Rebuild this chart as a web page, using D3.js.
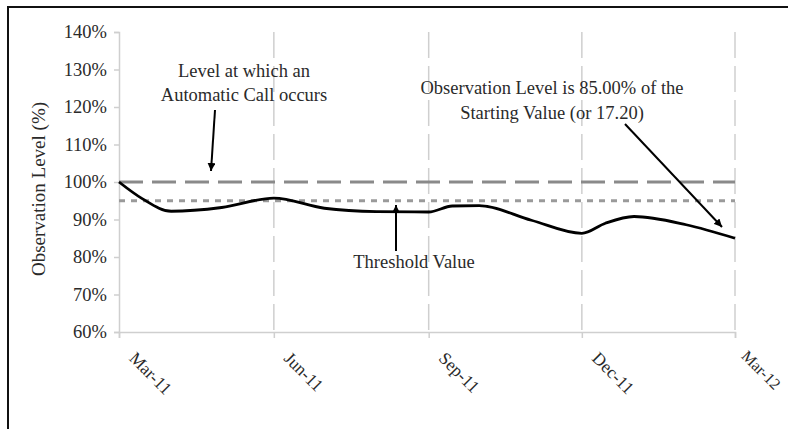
<!DOCTYPE html>
<html>
<head>
<meta charset="utf-8">
<script src="https://cdn.jsdelivr.net/npm/d3@7"></script>
<style>
  body { margin: 0; background: #fff; overflow: hidden; }
  text { font-family: "Liberation Serif", "Times New Roman", serif; }
</style>
</head>
<body>
<div id="chart-container"></div>
<script>
// Observation dates and levels (% of starting value)
const dates = ["2011-03-01", "2011-03-15", "2011-04-01", "2011-05-01", "2011-06-01", "2011-07-01",
  "2011-08-01", "2011-09-01", "2011-09-15", "2011-10-01", "2011-11-01", "2011-12-01",
  "2011-12-15", "2012-01-01", "2012-02-01", "2012-03-01"];
const levels = [100, 95.5, 92.2, 93.2, 95.7, 93.0, 92.1, 92.0, 93.6, 93.7, 89.8, 86.3,
  89.0, 90.8, 88.6, 85.0];

const callLevel = 100;
const thresholdLevel = 95;

const tickDates = ["2011-03-01", "2011-06-01", "2011-09-01", "2011-12-01", "2012-03-01"];
const tickLabels = ["Mar-11", "Jun-11", "Sep-11", "Dec-11", "Mar-12"];
const yTicks = [60, 70, 80, 90, 100, 110, 120, 130, 140];

const parseDate = d3.timeParse("%Y-%m-%d");
const data = dates.map((d, i) => ({ date: parseDate(d), value: levels[i] }));

// Chart geometry
const totalW = 788, totalH = 429;
const margin = { top: 32, left: 119 };
const width = 616;
const height = 300;

const svg = d3.select("#chart-container")
    .append("svg")
    .attr("width", totalW)
    .attr("height", totalH)
    .style("display", "block");

// outer frame (only top and left edges show)
svg.append("path")
    .attr("d", `M8,${totalH}V7H${totalW}`)
    .attr("fill", "none")
    .attr("stroke", "#111")
    .attr("stroke-width", 2);

const g = svg.append("g")
    .attr("transform", `translate(${margin.left},${margin.top})`);

const x = d3.scaleTime()
    .domain([parseDate(tickDates[0]), parseDate(tickDates[tickDates.length - 1])])
    .range([0, width]);

const y = d3.scaleLinear()
    .domain([60, 140])
    .range([height, 0]);

// Vertical gridlines
g.selectAll(".vgrid")
    .data(tickDates.slice(1))
    .enter().append("line")
    .attr("x1", d => x(parseDate(d)))
    .attr("x2", d => x(parseDate(d)))
    .attr("y1", 0)
    .attr("y2", height)
    .attr("stroke", "#cfcfcf")
    .attr("stroke-width", 1.5)
    .attr("stroke-dasharray", "26,8");

// Y axis
const yAxis = g.append("g")
    .call(d3.axisLeft(y).tickValues(yTicks).tickFormat(d => d + "%").tickSize(5).tickPadding(7));
yAxis.select(".domain").attr("stroke", "#cfcfcf").attr("stroke-width", 1.5);
yAxis.selectAll(".tick line").attr("stroke", "#cfcfcf").attr("stroke-width", 1.5);
yAxis.selectAll(".tick text")
    .attr("font-size", 18.5)
    .attr("font-family", "Liberation Serif")
    .attr("fill", "#2a2a2a");

// X axis
const xAxis = g.append("g")
    .attr("transform", `translate(0,${height})`)
    .call(d3.axisBottom(x)
        .tickValues(tickDates.map(parseDate))
        .tickFormat((d, i) => tickLabels[i])
        .tickSize(6));
xAxis.select(".domain").attr("stroke", "#cfcfcf").attr("stroke-width", 1.5);
xAxis.selectAll(".tick line").attr("stroke", "#cfcfcf").attr("stroke-width", 1.5);
xAxis.selectAll(".tick text")
    .attr("font-size", (d, i) => i === tickLabels.length - 1 ? 16 : 17.5)
    .attr("font-family", "Liberation Serif")
    .attr("fill", "#2a2a2a")
    .attr("text-anchor", "start")
    .attr("transform", (d, i) => i === tickLabels.length - 1
        ? "translate(9,21) rotate(45)" : "translate(13,23) rotate(45)")
    .attr("dy", "0.35em")
    .attr("y", 0)
    .attr("x", 0);

// Y axis title
svg.append("text")
    .attr("transform", `translate(45,189) rotate(-90)`)
    .attr("text-anchor", "middle")
    .attr("font-size", 19)
    .attr("fill", "#2a2a2a")
    .text("Observation Level (%)");

// Call level (long dashes) and threshold (short dashes)
g.append("line")
    .attr("x1", 0).attr("x2", width)
    .attr("y1", y(callLevel)).attr("y2", y(callLevel))
    .attr("stroke", "#8a8a8a")
    .attr("stroke-width", 3)
    .attr("stroke-dasharray", "24,9");

g.append("line")
    .attr("x1", 0).attr("x2", width)
    .attr("y1", y(thresholdLevel)).attr("y2", y(thresholdLevel))
    .attr("stroke", "#9a9a9a")
    .attr("stroke-width", 3)
    .attr("stroke-dasharray", "6,6");

// Observation line
const line = d3.line()
    .x(d => x(d.date))
    .y(d => y(d.value))
    .curve(d3.curveMonotoneX);

g.append("path")
    .datum(data)
    .attr("fill", "none")
    .attr("stroke", "#000")
    .attr("stroke-width", 2.8)
    .attr("d", line);

// Arrow marker
svg.append("defs").append("marker")
    .attr("id", "arrow")
    .attr("viewBox", "0 0 10 10")
    .attr("refX", 10).attr("refY", 5)
    .attr("markerWidth", 4).attr("markerHeight", 4)
    .attr("orient", "auto")
    .append("path")
    .attr("d", "M0,0L10,5L0,10z")
    .attr("fill", "#000");

function annotate(lines, cx, y0, lh) {
    const t = svg.append("text")
        .attr("text-anchor", "middle")
        .attr("font-size", 18.5)
        .attr("fill", "#2a2a2a");
    lines.forEach((s, i) => {
        t.append("tspan").attr("x", cx).attr("y", y0 + i * lh).text(s);
    });
}

function arrow(x1, y1, x2, y2) {
    svg.append("line")
        .attr("x1", x1).attr("y1", y1)
        .attr("x2", x2).attr("y2", y2)
        .attr("stroke", "#000")
        .attr("stroke-width", 2)
        .attr("marker-end", "url(#arrow)");
}

annotate(["Level at which an", "Automatic Call occurs"], 244, 77, 24);
arrow(215, 110, 211, 171);

annotate(["Observation Level is 85.00% of the", "Starting Value (or 17.20)"], 552, 94, 25);
arrow(625, 124, 722, 227);

annotate(["Threshold Value"], 414, 268, 0);
arrow(396, 251, 396, 205);
</script>
</body>
</html>
